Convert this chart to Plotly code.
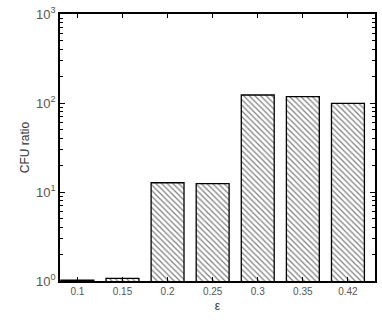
import plotly.graph_objects as go

categories = ["0.1", "0.15", "0.2", "0.25", "0.3", "0.35", "0.42"]
cfu_ratio = [1.02, 1.07, 12.7, 12.4, 123, 118, 99]
y_tick_vals = [1, 10, 100, 1000]
y_tick_text = ["10<sup>0</sup>", "10<sup>1</sup>", "10<sup>2</sup>", "10<sup>3</sup>"]
y_minor_vals = [m * d for d in (1, 10, 100) for m in range(2, 10)]

idx = list(range(len(categories)))

fig = go.Figure()
fig.add_trace(go.Bar(
    x=idx, y=cfu_ratio, width=0.73,
    marker=dict(
        color="white",
        line=dict(color="black", width=1.3),
        pattern=dict(shape="\\", fgcolor="black", bgcolor="white", size=4, solidity=0.3),
    ),
    showlegend=False,
))

fig.update_layout(
    width=382, height=322,
    margin=dict(l=60, r=5, t=13, b=41),
    paper_bgcolor="white", plot_bgcolor="white",
    font=dict(family="Liberation Sans, Arial, sans-serif", size=10, color="#444"),
)
fig.update_xaxes(
    tickmode="array", tickvals=idx, ticktext=categories,
    range=[-0.385, 6.6],
    showline=True, linecolor="black", linewidth=1.5, mirror="ticks",
    ticks="inside", ticklen=4, tickcolor="black",
    tickfont=dict(size=10, color="#555"),
    title=dict(text="ε", font=dict(size=12, color="#333"), standoff=6),
    showgrid=False, zeroline=False,
)
fig.update_yaxes(
    type="log", range=[0, 3],
    tickmode="array", tickvals=y_tick_vals, ticktext=y_tick_text,
    showline=True, linecolor="black", linewidth=1.5, mirror="ticks",
    ticks="inside", ticklen=5, tickcolor="black",
    minor=dict(tickmode="array", tickvals=y_minor_vals, ticks="inside", ticklen=3,
               tickcolor="black", tickwidth=1, showgrid=False),
    tickfont=dict(size=13, color="#555"),
    title=dict(text="CFU ratio", font=dict(size=12, color="#333"), standoff=4),
    showgrid=False, zeroline=False,
)

fig.write_html("out.html")
